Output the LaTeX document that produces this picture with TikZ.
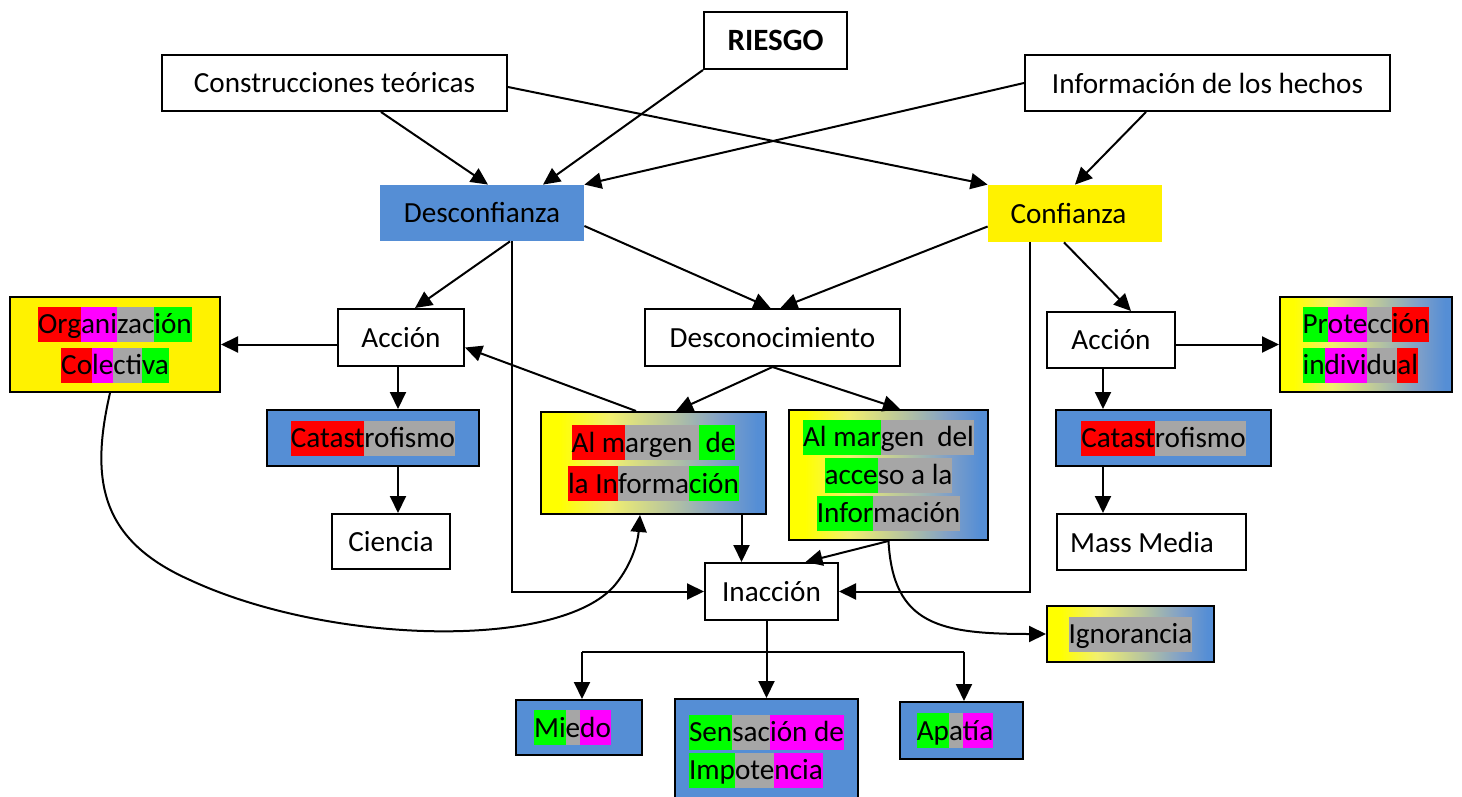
\documentclass[tikz,border=0pt]{standalone}
\usepackage{fontspec}
\setmainfont{Carlito}
\usetikzlibrary{arrows.meta,shadings}

\definecolor{myblue}{RGB}{85,142,213}
\definecolor{hlred}{RGB}{255,0,0}
\definecolor{hlmag}{RGB}{255,0,255}
\definecolor{hlgray}{RGB}{166,166,166}
\definecolor{hlgreen}{RGB}{0,255,0}
\definecolor{gyA}{RGB}{242,240,110}
\definecolor{gyB}{RGB}{182,196,160}
\definecolor{gyC}{RGB}{128,160,200}

% yellow-to-blue fill of the "al margen" and outcome boxes
\pgfdeclarehorizontalshading{yb}{100bp}{%
  color(0bp)=(yellow); color(25bp)=(yellow); color(29bp)=(yellow);
  color(40bp)=(gyA); color(54bp)=(gyB); color(65bp)=(gyC);
  color(73bp)=(myblue); color(100bp)=(myblue)}

% highlighted run of text
\newcommand\hl[2]{{\setlength\fboxsep{0pt}\colorbox{#1}{\rule[-4pt]{0pt}{17.5pt}#2}}}

\begin{document}
\begin{tikzpicture}[x=0.5pt,y=-0.5pt,
  bx/.style={draw=black, line width=1pt, fill=white, inner sep=0pt, align=center,
    font=\fontsize{14.6}{20.5}\selectfont},
  sz/.style 2 args={minimum width=#1, minimum height=#2},
  blu/.style={bx, fill=myblue},
  grad/.style={bx, shading=yb},
  plain/.style={inner sep=0pt, align=center, font=\fontsize{14.6}{20.5}\selectfont},
  arr/.style={line width=1pt, -{Triangle[length=8.5pt,width=8pt]}},
  ln/.style={line width=1pt}]
\useasboundingbox (0,0) rectangle (1462,797);

% top sources
\node[bx, sz={71.5pt}{28.5pt}, font=\fontsize{15.5}{20}\selectfont\bfseries] (riesgo) at (775.5,40.5) {RIESGO};
\node[bx, sz={172.5pt}{28pt}] (constr) at (334.5,83) {Construcciones teóricas};
\node[bx, sz={182.5pt}{28pt}] (info) at (1207.5,83) {Información de los hechos};

% attitudes
\node[plain, fill=myblue, sz={102pt}{28pt}] (desconf) at (482,213) {Desconfianza};
\node[plain, fill=yellow, sz={87pt}{28.5pt}] (conf) at (1075,213.5) {Confianza\hspace*{6.5pt}};

% second level
\node[bx, fill=yellow, sz={105pt}{47.5pt}] (org) at (115,344.5)
  {\hl{hlred}{Org}\hl{hlmag}{ani}\hl{hlgray}{zac}\hl{hlgreen}{ión}\\
   \hl{hlred}{Co}\hl{hlmag}{le}\hl{hlgray}{cti}\hl{hlgreen}{va}};
\node[bx, sz={63pt}{28.5pt}] (accL) at (401,337.5) {Acción};
\node[bx, sz={127.5pt}{28.5pt}] (descon) at (772.5,337.5) {Desconocimiento};
\node[bx, sz={64pt}{28pt}] (accR) at (1111,340) {Acción};
\node[grad, sz={86pt}{47.5pt}, align=left] (prot) at (1366,344.5)
  {\hl{hlgreen}{Pr}\hl{hlmag}{ote}\hl{hlgray}{cc}\hl{hlred}{ión}\\
   \hl{hlgreen}{in}\hl{hlmag}{divi}\hl{hlgray}{du}\hl{hlred}{al}};

% third level
\node[blu, sz={106pt}{28pt}] (catL) at (373,438) {\hl{hlred}{Catast}\hl{hlgray}{rofismo}};
\node[grad, sz={112.5pt}{51pt}] (margen) at (653.5,463)
  {\hl{hlred}{Al m}\hl{hlgray}{argen }\hl{hlgreen}{\ de}\\
   \hl{hlred}{la In}\hl{hlgray}{forma}\hl{hlgreen}{ción}};
\node[grad, sz={99.5pt}{65pt}, font=\fontsize{14.6}{19}\selectfont] (acceso) at (888.5,475)
  {\hl{hlgreen}{Al mar}\hl{hlgray}{gen \ del}\\
   \hl{hlgreen}{acce}\hl{hlgray}{so a la}\\
   \hl{hlgreen}{Infor}\hl{hlgray}{mación}};
\node[blu, sz={107.5pt}{28pt}] (catR) at (1163.5,438) {\hl{hlred}{Catast}\hl{hlgray}{rofismo}};

% fourth level
\node[bx, sz={59pt}{27.5pt}] (ciencia) at (391,541.5) {Ciencia};
\node[bx, sz={94.5pt}{28pt}] (mass) at (1151.5,542) {Mass Media\hspace*{9.5pt}};
\node[bx, sz={66.5pt}{28.5pt}] (inac) at (771.5,591.5) {Inacción};
\node[grad, sz={83.5pt}{28pt}] (ignor) at (1130.5,634) {\hl{hlgray}{Ignorancia}};

% outcomes
\node[blu, sz={63pt}{27.5pt}] (miedo) at (579,727.5) {\hl{hlgreen}{Mi}\hl{hlgray}{e}\hl{hlmag}{do}\hspace*{6.5pt}};
\node[blu, sz={91.5pt}{52pt}, align=left, font=\fontsize{14.6}{19}\selectfont] (sens) at (766.5,751)
  {\hl{hlgreen}{Sen}\hl{hlgray}{sac}\hl{hlmag}{ión de}\\
   \hl{hlgreen}{Imp}\hl{hlgray}{ote}\hl{hlmag}{ncia}};
\node[blu, sz={61.5pt}{28.5pt}] (apatia) at (961.5,730.5) {\hl{hlgreen}{Ap}\hl{hlgray}{a}\hl{hlmag}{tía}\hspace*{6.5pt}};

% sources into attitudes
\draw[arr] ([xshift=23.25pt]constr.south) -- ([xshift=3pt]desconf.north);
\draw[arr] (riesgo.south west) -- ([xshift=30.5pt]desconf.north);
\draw[arr] (info.west) -- (desconf.north east);
\draw[arr] ([yshift=-2pt]constr.east) -- (conf.north west);
\draw[arr] ([xshift=-30.75pt]info.south) -- (conf.north);

% attitudes into second level
\draw[arr] ([xshift=14pt]desconf.south) -- ([xshift=7pt]accL.north);
\draw[arr] ([yshift=-6.5pt]desconf.east) -- ([xshift=-1pt]descon.north);
\draw[arr] ([yshift=-6.5pt]conf.west) -- ([xshift=4pt]descon.north);
\draw[arr] ([xshift=-5.5pt]conf.south) -- ([xshift=10pt]accR.north);
\draw[arr] ([xshift=15pt]desconf.south) |- (inac.west);
\draw[arr] ([xshift=-22.5pt]conf.south) |- (inac.east);

% left branch
\draw[arr] (accL.west |- org.east) -- (org.east);
\coordinate (cl) at ([xshift=-1.5pt]accL.south);
\draw[arr] (cl) -- (cl |- catL.north);
\draw[arr] (cl |- catL.south) -- (cl |- ciencia.north);
\draw[arr] ([xshift=-8.75pt]margen.north) -- ([yshift=-5pt]accL.east);

% middle branch
\draw[arr] (descon.south) -- ([xshift=11.25pt]margen.north);
\draw[arr] (descon.south) -- ([xshift=5.75pt]acceso.north);
\coordinate (ml) at ([xshift=-15pt]inac.north);
\draw[arr] (ml |- margen.south) -- (ml);
\draw[arr] (acceso.south) -- ([xshift=17pt]inac.north);
\draw[arr] (acceso.south) .. controls (893,625) and (940,634) .. (ignor.west);
\draw[arr] ([xshift=-2.5pt]org.south) .. controls (90,480) and (100,540) .. (190,580)
  .. controls (330,645) and (560,650) .. (615,585)
  .. controls (633,563) and (638,540) .. ([xshift=-6.75pt]margen.south);

% right branch
\draw[arr] (accR.east |- prot.west) -- (prot.west);
\coordinate (cr) at ([xshift=-4pt]accR.south);
\draw[arr] (cr) -- (cr |- catR.north);
\draw[arr] (cr |- catR.south) -- (cr |- mass.north);

% outcomes of inaction
\coordinate (bus) at (0,652);
\draw[ln] ([xshift=-2.5pt]inac.south) -- ([xshift=-2.5pt]inac.south |- bus);
\draw[ln] ([xshift=1.5pt]miedo.north |- bus) -- ([xshift=1.25pt]apatia.north |- bus);
\draw[arr] ([xshift=1.5pt]miedo.north |- bus) -- ([xshift=1.5pt]miedo.north);
\draw[arr] (sens.north |- bus) -- (sens.north);
\draw[arr] ([xshift=1.25pt]apatia.north |- bus) -- ([xshift=1.25pt]apatia.north);
\end{tikzpicture}
\end{document}
